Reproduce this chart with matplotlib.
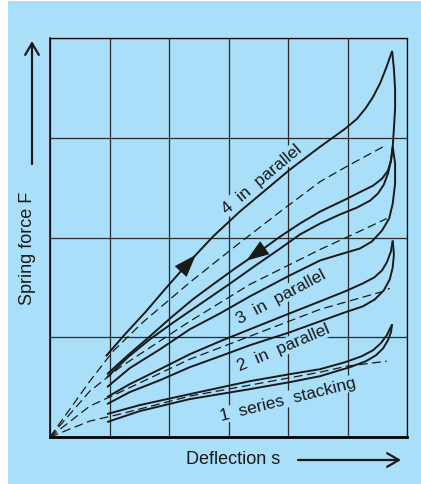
import numpy as np
import matplotlib
matplotlib.use('Agg')
import matplotlib.pyplot as plt
from matplotlib.patches import Rectangle, FancyArrowPatch

BG = '#a9dff8'
INK = '#1a1a1a'
FONT = ['Liberation Sans Narrow', 'Liberation Sans', 'DejaVu Sans']

# deflection / force (grid units: 6 x 4 squares)
# 4 in parallel
load4_x = [0.94, 1.26, 1.60, 1.93, 2.30, 2.74, 3.19, 3.61, 4.03, 4.54, 4.96, 5.16, 5.31, 5.43, 5.55, 5.65, 5.75]
load4_y = [0.81, 1.03, 1.25, 1.48, 1.73, 2.01, 2.26, 2.47, 2.68, 2.91, 3.09, 3.19, 3.30, 3.41, 3.55, 3.70, 3.87]
unld4_x = [5.75, 5.78, 5.80, 5.80, 5.78, 5.76, 5.73, 5.68, 5.58, 5.43, 5.26, 4.96, 4.54, 4.20, 3.87,
           3.50, 3.11, 2.74, 2.40, 2.02, 1.68, 1.31, 0.96]
unld4_y = [3.87, 3.69, 3.49, 3.29, 3.09, 2.91, 2.77, 2.67, 2.59, 2.52, 2.47, 2.38, 2.26, 2.14, 2.01,
           1.85, 1.69, 1.53, 1.38, 1.19, 1.01, 0.82, 0.63]
dash4_x = [0.0, 0.67, 1.06, 1.56, 2.35, 3.11, 3.87, 4.54, 5.04, 5.60]
dash4_y = [0.0, 0.56, 0.86, 1.15, 1.55, 1.91, 2.26, 2.56, 2.73, 2.91]
# 3 in parallel
load3_x = [0.96, 1.31, 1.68, 2.10, 2.64, 3.03, 3.48, 3.87, 4.20, 4.54, 4.87, 5.16, 5.38, 5.51, 5.61, 5.68, 5.73, 5.76]
load3_y = [0.60, 0.80, 0.98, 1.16, 1.38, 1.54, 1.73, 1.89, 2.03, 2.14, 2.23, 2.30, 2.37, 2.44, 2.53, 2.64, 2.77, 2.91]
unld3_x = [5.76, 5.80, 5.80, 5.76, 5.70, 5.58, 5.41, 5.21, 4.87, 4.54, 4.03, 3.36, 2.86, 2.35, 1.85, 1.34, 0.96]
unld3_y = [2.91, 2.74, 2.54, 2.34, 2.19, 2.07, 1.96, 1.89, 1.83, 1.77, 1.62, 1.41, 1.24, 1.08, 0.88, 0.69, 0.50]
dash3_x = [0.0, 0.67, 1.18, 2.35, 3.36, 4.54, 5.16, 5.66]
dash3_y = [0.0, 0.46, 0.70, 1.16, 1.53, 1.88, 2.05, 2.19]
# 2 in parallel
load2_x = [0.96, 1.34, 1.85, 2.35, 2.86, 3.36, 4.03, 4.54, 4.96, 5.26, 5.45, 5.58, 5.66, 5.73, 5.76]
load2_y = [0.40, 0.53, 0.68, 0.83, 0.96, 1.08, 1.24, 1.36, 1.46, 1.54, 1.60, 1.67, 1.75, 1.86, 1.97]
unld2_x = [5.76, 5.78, 5.76, 5.71, 5.61, 5.46, 5.26, 4.96, 4.54, 4.03, 3.36, 2.86, 2.35, 1.85, 1.34, 0.96]
unld2_y = [1.97, 1.83, 1.70, 1.58, 1.47, 1.38, 1.31, 1.25, 1.16, 1.05, 0.92, 0.81, 0.70, 0.57, 0.45, 0.33]
dash2_x = [0.0, 0.67, 1.18, 2.35, 3.36, 4.54, 5.60, 5.71]
dash2_y = [0.0, 0.31, 0.45, 0.78, 1.01, 1.28, 1.46, 1.49]
# 1 series stacking
load1_x = [0.96, 1.51, 2.35, 3.36, 4.03, 4.54, 4.96, 5.24, 5.43, 5.56, 5.66, 5.75]
load1_y = [0.23, 0.32, 0.43, 0.56, 0.63, 0.68, 0.75, 0.81, 0.87, 0.94, 1.02, 1.13]
unld1_x = [5.75, 5.73, 5.68, 5.60, 5.48, 5.31, 5.04, 4.54, 4.03, 3.36, 2.35, 1.51, 0.96]
unld1_y = [1.13, 1.05, 0.97, 0.89, 0.82, 0.76, 0.70, 0.61, 0.55, 0.48, 0.38, 0.26, 0.15]
dash1_x = [0.0, 0.67, 1.18, 2.35, 3.36, 4.54, 4.99, 5.66]
dash1_y = [0.0, 0.16, 0.23, 0.41, 0.52, 0.65, 0.71, 0.76]

labels = ['4  in  parallel', '3  in  parallel', '2  in  parallel', '1  series  stacking']
label_x = [3.56, 3.88, 3.93, 4.00]
label_y = [2.59, 1.41, 0.90, 0.38]
label_rot = [40, 28, 23, 14]

fig = plt.figure(figsize=(4.21, 4.85), dpi=100, facecolor='white')
fig.patches.append(Rectangle((8 / 421, 0), 1, 483 / 485, transform=fig.transFigure,
                             facecolor=BG, edgecolor='none', zorder=-10))

ax = fig.add_axes([50 / 421, 47 / 485, 357 / 421, 399 / 485])
ax.set_facecolor(BG)
ax.set_xlim(0, 6)
ax.set_ylim(0, 4)
ax.set_xticks(range(7))
ax.set_yticks(range(5))
ax.tick_params(length=0, labelbottom=False, labelleft=False)
ax.set_axisbelow(True)
ax.grid(True, color='#2a2a2a', lw=0.9)
for s in ['top', 'right']:
    ax.spines[s].set_linewidth(0.9)
ax.spines['left'].set_linewidth(1.1)
ax.spines['bottom'].set_linewidth(2.0)

solid = dict(color=INK, lw=1.4, zorder=3, solid_capstyle='butt', solid_joinstyle='round')
dashed = dict(color=INK, lw=0.9, zorder=3, dashes=(7, 3.6))

for lx, ly, ux, uy, dx, dy in [
        (load4_x, load4_y, unld4_x, unld4_y, dash4_x, dash4_y),
        (load3_x, load3_y, unld3_x, unld3_y, dash3_x, dash3_y),
        (load2_x, load2_y, unld2_x, unld2_y, dash2_x, dash2_y),
        (load1_x, load1_y, unld1_x, unld1_y, dash1_x, dash1_y)]:
    ax.plot(lx, ly, **solid)
    ax.plot(ux, uy, **solid)
    ax.plot(dx, dy, **dashed)

# direction arrows: loading (up) and unloading (down)
def arrow_on(xs, ys, x0, x1):
    order = np.argsort(xs)
    xs_s = np.array(xs)[order]
    ys_s = np.array(ys)[order]
    y0 = np.interp(x0, xs_s, ys_s)
    y1 = np.interp(x1, xs_s, ys_s)
    ax.annotate('', xy=(x1, y1), xytext=(x0, y0),
                arrowprops=dict(arrowstyle='-|>,head_length=0.9,head_width=0.32',
                                color=INK, lw=0, shrinkA=0, shrinkB=0,
                                mutation_scale=18), zorder=4)

arrow_on(load4_x, load4_y, 2.15, 2.45)
arrow_on(unld4_x, unld4_y, 3.62, 3.30)

for t, x, y, r in zip(labels, label_x, label_y, label_rot):
    ax.text(x, y, t, rotation=r, rotation_mode='anchor', ha='center', va='center',
            fontsize=12.5, family=FONT, color=INK, zorder=2.5,
            bbox=dict(facecolor=BG, edgecolor='none', pad=0.5))

# axis titles with arrows
fig.text(28 / 421, 1 - 248 / 485, 'Spring force F', rotation=90, ha='center', va='center',
         fontsize=13, family=FONT, color=INK)
fig.text(233 / 421, 1 - 460 / 485, 'Deflection s', ha='center', va='center',
         fontsize=13, family=FONT, color=INK)
arr = dict(arrowstyle='->,head_length=0.6,head_width=0.35', color=INK, lw=1.6,
           shrinkA=0, shrinkB=0, mutation_scale=14)
fig.patches.append(FancyArrowPatch(
    (32 / 421, 1 - 165 / 485), (32 / 421, 1 - 42 / 485), transform=fig.transFigure, **arr))
fig.patches.append(FancyArrowPatch(
    (298 / 421, 1 - 461 / 485), (401 / 421, 1 - 461 / 485), transform=fig.transFigure, **arr))

fig.savefig('out.png', dpi=100, facecolor='white')
